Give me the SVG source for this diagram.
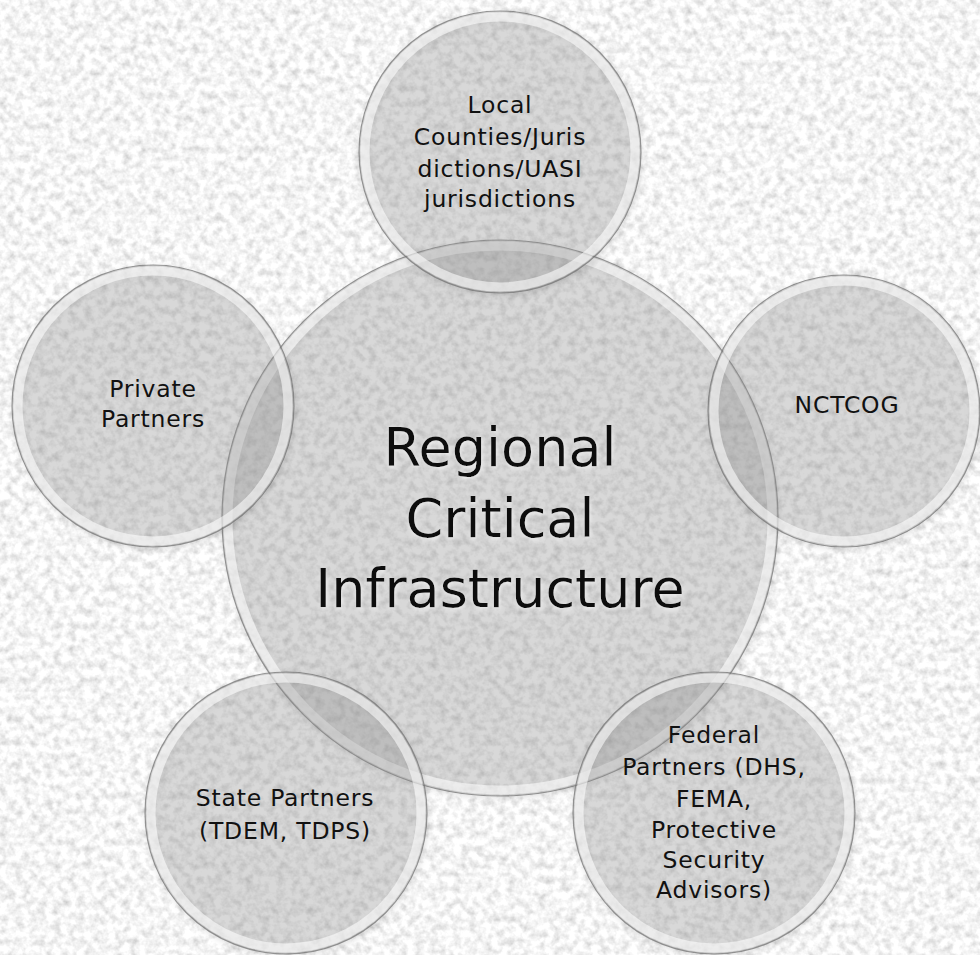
<svg xmlns="http://www.w3.org/2000/svg" width="980" height="955" viewBox="0 0 980 955">
  <defs>
    <filter id="noise" x="0" y="0" width="980" height="955" filterUnits="userSpaceOnUse">
      <feTurbulence type="fractalNoise" baseFrequency="0.13" numOctaves="3" seed="7" result="t"/>
      <feColorMatrix in="t" type="matrix" values="0.7 0 0 0 0.56  0.7 0 0 0 0.56  0.7 0 0 0 0.56  0 0 0 0 1"/>
    </filter>
    <filter id="shadow" x="-10%" y="-10%" width="120%" height="120%">
      <feGaussianBlur in="SourceAlpha" stdDeviation="3"/>
      <feOffset dx="1" dy="2" result="b"/>
      <feComponentTransfer><feFuncA type="linear" slope="0.2"/></feComponentTransfer>
      <feMerge><feMergeNode/><feMergeNode in="SourceGraphic"/></feMerge>
    </filter>
    <filter id="glow" x="-10%" y="-20%" width="120%" height="140%">
      <feGaussianBlur in="SourceAlpha" stdDeviation="2"/>
      <feOffset dx="1" dy="2" result="o"/>
      <feFlood flood-color="#ffffff" flood-opacity="0.6"/>
      <feComposite in2="o" operator="in"/>
      <feMerge><feMergeNode/><feMergeNode in="SourceGraphic"/></feMerge>
    </filter>
  </defs>
  <style>
    .disc { fill: #949494; fill-opacity: 0.3; }
    .rim { fill: none; stroke: #ffffff; stroke-opacity: 0.55; stroke-width: 9; }
    .edge { fill: none; stroke: #6f6f6f; stroke-opacity: 0.7; stroke-width: 1.2; }
    .lbl { font-family: "DejaVu Sans", "Liberation Sans", sans-serif; font-size: 23.5px; fill: #111111; text-anchor: middle; letter-spacing: 0.8px; }
    .big { font-family: "DejaVu Sans", "Liberation Sans", sans-serif; font-size: 54px; fill: #111111; text-anchor: middle; }
  </style>

  <rect x="0" y="0" width="980" height="955" fill="#e8e8e8"/>
  <rect x="0" y="0" width="980" height="955" filter="url(#noise)"/>

  <g id="connectors"></g>

  <g id="center" filter="url(#shadow)">
    <circle class="disc" cx="500" cy="518" r="278"/>
    <circle class="rim" cx="500" cy="518" r="272"/>
    <circle class="edge" cx="500" cy="518" r="278"/>
  </g>

  <g id="local" filter="url(#shadow)">
    <circle class="disc" cx="500" cy="152" r="141"/>
    <circle class="rim" cx="500" cy="152" r="135"/>
    <circle class="edge" cx="500" cy="152" r="141"/>
  </g>

  <g id="nctcog" filter="url(#shadow)">
    <circle class="disc" cx="844" cy="411" r="136"/>
    <circle class="rim" cx="844" cy="411" r="130"/>
    <circle class="edge" cx="844" cy="411" r="136"/>
  </g>

  <g id="private" filter="url(#shadow)">
    <circle class="disc" cx="153" cy="406" r="141"/>
    <circle class="rim" cx="153" cy="406" r="135"/>
    <circle class="edge" cx="153" cy="406" r="141"/>
  </g>

  <g id="state" filter="url(#shadow)">
    <circle class="disc" cx="286" cy="813" r="141"/>
    <circle class="rim" cx="286" cy="813" r="135"/>
    <circle class="edge" cx="286" cy="813" r="141"/>
  </g>

  <g id="federal" filter="url(#shadow)">
    <circle class="disc" cx="714" cy="813" r="141"/>
    <circle class="rim" cx="714" cy="813" r="135"/>
    <circle class="edge" cx="714" cy="813" r="141"/>
  </g>

  <g id="labels">
    <g filter="url(#glow)">
      <text class="big" x="500" y="466">Regional</text>
      <text class="big" x="500" y="537">Critical</text>
      <text class="big" x="500" y="607">Infrastructure</text>
    </g>
    <text class="lbl" x="500" y="113">Local</text>
    <text class="lbl" x="500" y="145">Counties/Juris</text>
    <text class="lbl" x="500" y="177">dictions/UASI</text>
    <text class="lbl" x="500" y="207">jurisdictions</text>

    <text class="lbl" x="847" y="413">NCTCOG</text>

    <text class="lbl" x="153" y="397">Private</text>
    <text class="lbl" x="153" y="427">Partners</text>

    <text class="lbl" x="285" y="806">State Partners</text>
    <text class="lbl" x="285" y="839">(TDEM, TDPS)</text>

    <text class="lbl" x="714" y="743">Federal</text>
    <text class="lbl" x="714" y="775">Partners (DHS,</text>
    <text class="lbl" x="714" y="807">FEMA,</text>
    <text class="lbl" x="714" y="838">Protective</text>
    <text class="lbl" x="714" y="868">Security</text>
    <text class="lbl" x="714" y="898">Advisors)</text>
  </g>
</svg>
